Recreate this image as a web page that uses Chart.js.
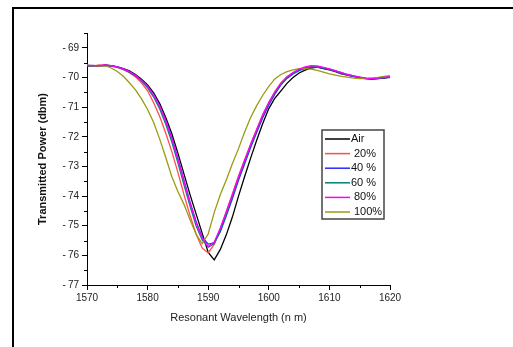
<!DOCTYPE html>
<html>
<head>
<meta charset="utf-8">
<script src="https://cdn.jsdelivr.net/npm/chart.js@4.4.1/dist/chart.umd.min.js"></script>
<style>
    body { margin: 0; background: #fff; }
    #wrap { position: absolute; left: 0; top: 0; width: 513px; height: 347px; }
    #frame {
        position: absolute; left: 12px; top: 7px; width: 520px; height: 360px;
        border-left: 2px solid #000; border-top: 2px solid #000;
        pointer-events: none;
    }
</style>
</head>
<body>
<div id="wrap"><canvas id="chart"></canvas></div>
<div id="frame"></div>
<script>
    // Wavelength samples (nm)
    var wavelengths = [];
    for (var w = 1570; w <= 1620; w++) wavelengths.push(w);

    var seriesLabels = ["Air", "20%", "40 %", "60 %", "80%", "100%"];

    // Transmitted power (dbm), one value per nm
    var air = [-69.62, -69.60, -69.62, -69.58, -69.60, -69.64, -69.70, -69.78, -69.90, -70.06,
        -70.25, -70.52, -70.88, -71.35, -71.90, -72.55, -73.25, -73.95, -74.60, -75.25,
        -75.90, -76.15, -75.80, -75.30, -74.70, -74.00, -73.35, -72.72, -72.12, -71.55,
        -71.05, -70.70, -70.45, -70.20, -70.00, -69.85, -69.75, -69.68, -69.65, -69.70,
        -69.74, -69.80, -69.88, -69.92, -69.96, -70.00, -70.04, -70.05, -70.04, -70.02, -70.00];
    var p20 = [-69.60, -69.62, -69.58, -69.60, -69.62, -69.66, -69.74, -69.84, -69.98, -70.18,
        -70.45, -70.85, -71.32, -71.88, -72.50, -73.20, -73.95, -74.65, -75.28, -75.75,
        -75.92, -75.62, -75.10, -74.52, -73.92, -73.32, -72.78, -72.25, -71.75, -71.25,
        -70.84, -70.48, -70.18, -69.98, -69.84, -69.74, -69.67, -69.62, -69.64, -69.67,
        -69.73, -69.79, -69.86, -69.91, -69.96, -70.00, -70.03, -70.04, -70.02, -70.00, -69.98];
    var p40 = [-69.61, -69.59, -69.61, -69.60, -69.60, -69.64, -69.72, -69.81, -69.94, -70.10,
        -70.31, -70.58, -70.96, -71.45, -72.04, -72.72, -73.46, -74.20, -74.86, -75.38,
        -75.62, -75.58, -75.20, -74.66, -74.08, -73.47, -72.92, -72.36, -71.86, -71.36,
        -70.93, -70.56, -70.25, -70.03, -69.88, -69.77, -69.69, -69.65, -69.65, -69.69,
        -69.73, -69.79, -69.86, -69.92, -69.97, -70.01, -70.04, -70.06, -70.04, -70.01, -69.99];
    var p60 = [-69.60, -69.61, -69.60, -69.59, -69.62, -69.65, -69.72, -69.82, -69.95, -70.12,
        -70.35, -70.66, -71.06, -71.58, -72.18, -72.88, -73.62, -74.34, -75.00, -75.48,
        -75.72, -75.60, -75.15, -74.60, -74.00, -73.40, -72.85, -72.30, -71.80, -71.30,
        -70.88, -70.52, -70.22, -70.00, -69.86, -69.76, -69.68, -69.64, -69.64, -69.68,
        -69.72, -69.78, -69.84, -69.90, -69.95, -69.99, -70.02, -70.04, -70.03, -70.00, -69.98];
    var p80 = [-69.59, -69.60, -69.60, -69.58, -69.61, -69.64, -69.71, -69.80, -69.93, -70.10,
        -70.30, -70.59, -70.97, -71.47, -72.06, -72.76, -73.50, -74.24, -74.90, -75.42,
        -75.70, -75.55, -75.08, -74.52, -73.95, -73.36, -72.80, -72.26, -71.76, -71.27,
        -70.85, -70.49, -70.19, -69.98, -69.83, -69.72, -69.64, -69.60, -69.61, -69.66,
        -69.71, -69.77, -69.84, -69.90, -69.95, -69.99, -70.02, -70.03, -70.02, -70.00, -69.97];
    var p100 = [-69.58, -69.60, -69.62, -69.60, -69.68, -69.80, -69.96, -70.18, -70.42, -70.72,
        -71.08, -71.52, -72.08, -72.70, -73.35, -73.85, -74.28, -74.80, -75.28, -75.60,
        -75.28, -74.55, -73.95, -73.45, -72.90, -72.40, -71.85, -71.35, -70.95, -70.60,
        -70.30, -70.05, -69.90, -69.80, -69.74, -69.70, -69.70, -69.72, -69.76, -69.82,
        -69.88, -69.92, -69.96, -69.99, -70.02, -70.04, -70.04, -70.02, -70.00, -69.96, -69.94];

    var allSeries = [air, p20, p40, p60, p80, p100];
    var colors = ["#000000", "#ff4c4c", "#2a2aff", "#00807a", "#ff00ff", "#9c9a10"];
    var drawOrder = [6, 5, 4, 3, 1, 2];

    var datasets = allSeries.map(function (vals, i) {
        return {
            label: seriesLabels[i],
            data: wavelengths.map(function (x, j) { return {x: x, y: vals[j]}; }),
            borderColor: colors[i],
            borderWidth: 1.3,
            pointRadius: 0,
            tension: 0,
            order: drawOrder[i]
        };
    });

    var font = "'Liberation Sans', Arial, sans-serif";

    // Minor ticks (shorter) and the boxed legend inside the plot
    var extras = {
        id: 'extras',
        afterDraw: function (chart) {
            var c = chart.ctx, xs = chart.scales.x, ys = chart.scales.y, a = chart.chartArea;
            c.save();
            c.strokeStyle = '#000';
            c.lineWidth = 1;
            c.beginPath();
            for (var v = 1575; v < 1620; v += 10) {
                var px = Math.round(xs.getPixelForValue(v)) + 0.5;
                c.moveTo(px, a.bottom); c.lineTo(px, a.bottom + 3);
            }
            for (var t = -76.5; t <= -68.5; t += 1) {
                var py = Math.round(ys.getPixelForValue(t)) + 0.5;
                c.moveTo(a.left, py); c.lineTo(a.left - 3, py);
            }
            c.stroke();

            // legend
            c.lineWidth = 1.5;
            c.strokeStyle = '#444';
            c.strokeRect(322, 130, 62, 89);
            c.font = '11px ' + font;
            c.textBaseline = 'middle';
            c.fillStyle = '#111';
            seriesLabels.forEach(function (lab, i) {
                var y = 139 + i * 14.6;
                c.strokeStyle = colors[i];
                c.lineWidth = 1.5;
                c.beginPath();
                c.moveTo(325, y); c.lineTo(350, y);
                c.stroke();
                c.fillText(lab, lab.indexOf(' ') > 0 || lab === 'Air' ? 351 : 354, y);
            });
            c.restore();
        }
    };

    new Chart(document.getElementById('chart'), {
        type: 'line',
        data: {datasets: datasets},
        options: {
            responsive: true,
            maintainAspectRatio: false,
            animation: false,
            layout: {padding: {left: 0, top: 33, right: 123, bottom: 0}},
            plugins: {legend: {display: false}, tooltip: {enabled: false}},
            scales: {
                x: {
                    type: 'linear',
                    min: 1570,
                    max: 1620,
                    afterFit: function (s) { s.height = 62; },
                    ticks: {
                        stepSize: 10,
                        padding: 2,
                        color: '#222',
                        font: {family: font, size: 10},
                        maxRotation: 0,
                        callback: function (v) { return String(v); }
                    },
                    grid: {drawOnChartArea: false, tickLength: 5, tickColor: '#000'},
                    border: {display: true, color: '#000', width: 1},
                    title: {
                        display: true,
                        text: 'Resonant Wavelength (n m)',
                        color: '#222',
                        font: {family: font, size: 11},
                        padding: {top: 0, bottom: 22}
                    }
                },
                y: {
                    min: -77,
                    max: -68.5,
                    afterFit: function (s) { s.width = 87; },
                    afterBuildTicks: function (s) {
                        s.ticks = s.ticks.filter(function (t) { return Number.isInteger(t.value); });
                    },
                    ticks: {
                        stepSize: 1,
                        padding: 3,
                        color: '#222',
                        font: {family: font, size: 10},
                        callback: function (v) { return '-\u2009' + Math.abs(v); }
                    },
                    grid: {drawOnChartArea: false, tickLength: 5, tickColor: '#000'},
                    border: {display: true, color: '#000', width: 1},
                    title: {
                        display: true,
                        text: 'Transmitted Power (dbm)',
                        color: '#111',
                        font: {family: font, size: 11, weight: 'bold'},
                        padding: {top: 36, bottom: 0}
                    }
                }
            }
        },
        plugins: [extras]
    });
</script>
</body>
</html>
